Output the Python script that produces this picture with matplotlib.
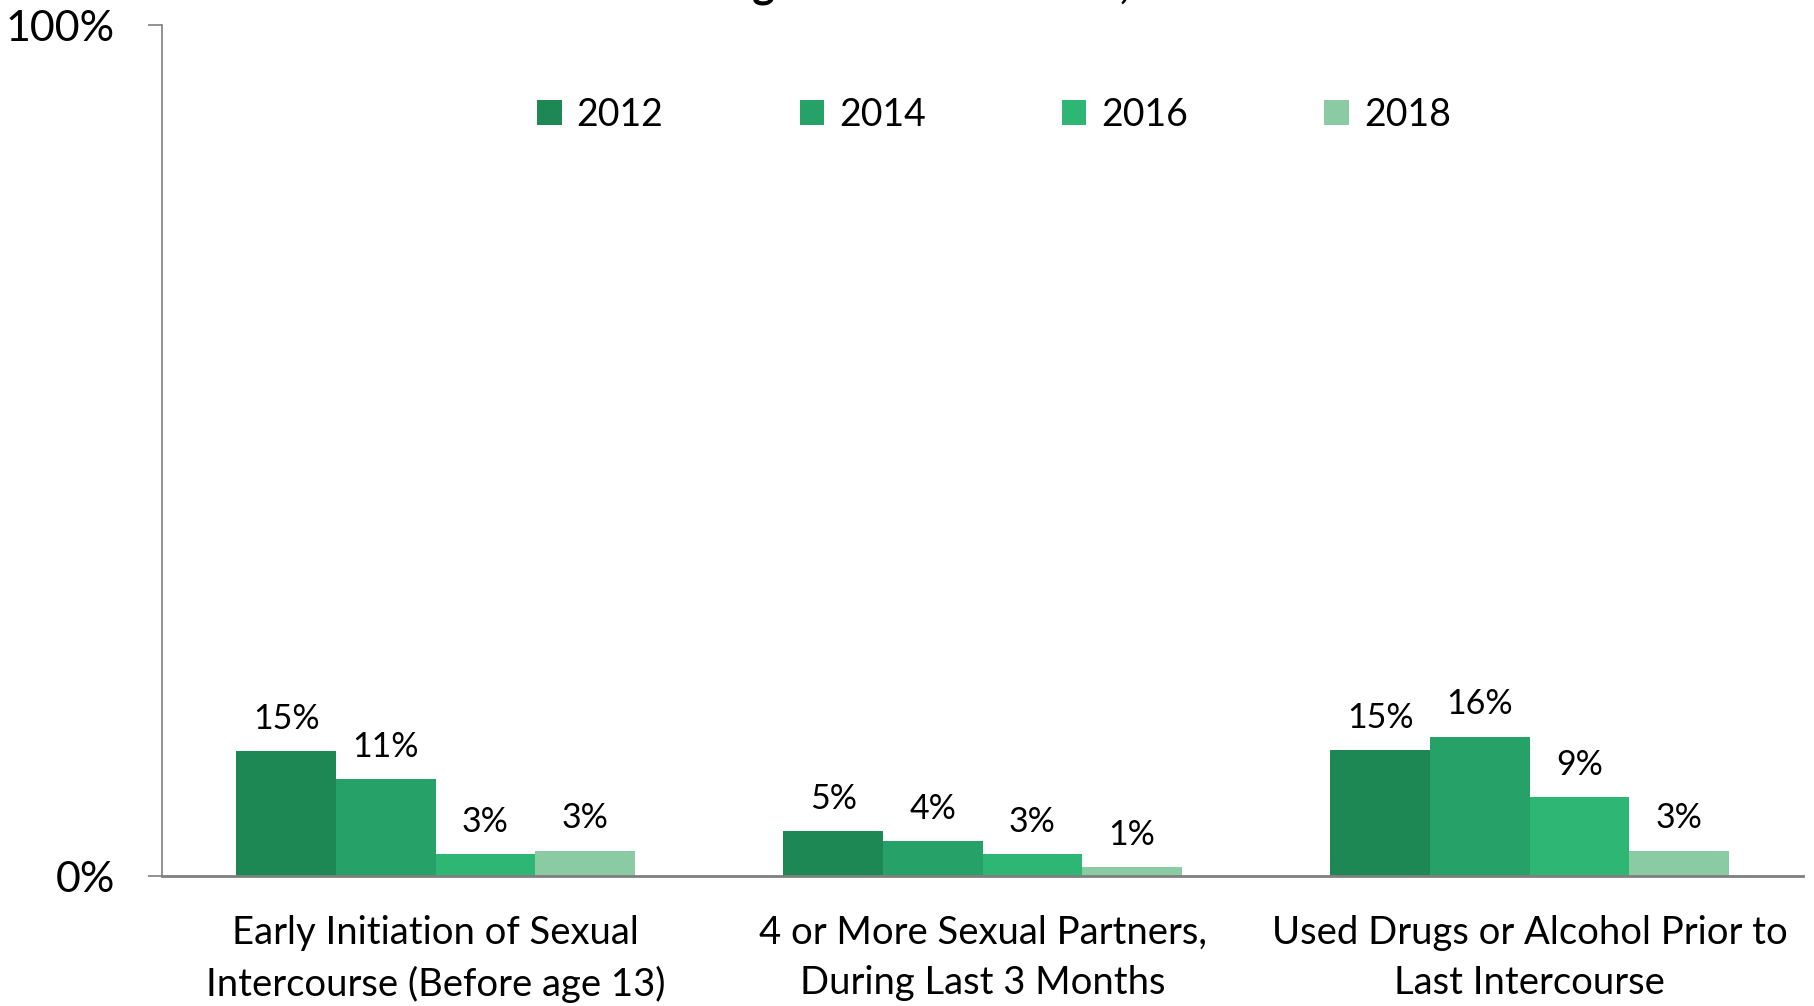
import matplotlib
matplotlib.use("Agg")
import matplotlib.pyplot as plt
import numpy as np

plt.rcParams['font.family'] = ['Lato', 'DejaVu Sans']

categories = ["Early Initiation of Sexual\nIntercourse (Before age 13)",
              "4 or More Sexual Partners,\nDuring Last 3 Months",
              "Used Drugs or Alcohol Prior to\nLast Intercourse"]
years = ["2012", "2014", "2016", "2018"]
vals_2012 = [14.7, 5.3, 14.8]
vals_2014 = [11.4, 4.1, 16.4]
vals_2016 = [2.6, 2.6, 9.3]
vals_2018 = [3.0, 1.1, 3.0]
series = [vals_2012, vals_2014, vals_2016, vals_2018]
colors = ["#1E8854", "#26A268", "#2DB674", "#8ACBA3"]
title = "Public High School Students, Total"

fig = plt.figure(figsize=(18.15, 10.06), dpi=100)
ax = fig.add_axes([0.0893, 0.1292, 0.9041, 0.8455])

x = np.arange(len(categories))
w = 0.182
for k, (vals, c, yr) in enumerate(zip(series, colors, years)):
    pos = x + (k - 1.5) * w
    bars = ax.bar(pos, vals, width=w, color=c, label=yr, edgecolor='none')
    for b, v in zip(bars, vals):
        ax.text(b.get_x() + b.get_width() / 2, v + 1.9, "%d%%" % round(v),
                ha='center', va='bottom', fontsize=24.5)

ax.set_xlim(-0.5, 2.5)
ax.set_ylim(0, 100)
ax.set_yticks([0, 100])
ax.set_yticklabels(["0%", "100%"], fontsize=31)
ax.set_xticks(x)
ax.set_xticklabels(categories, fontsize=27.5, linespacing=1.5)
ax.tick_params(axis='x', length=0, pad=28)
ax.tick_params(axis='y', length=10, width=1.2, color='#7f7f7f', direction='out', pad=24)
for s in ['top', 'right']:
    ax.spines[s].set_visible(False)
ax.spines['left'].set_color('#7f7f7f')
ax.spines['left'].set_linewidth(1.2)
ax.spines['bottom'].set_color('#7f7f7f')
ax.spines['bottom'].set_linewidth(2)

ax.legend(loc='center', bbox_to_anchor=(0.507, 0.895), ncol=4, frameon=False,
          fontsize=27, handlelength=0.65, handleheight=0.65, handletextpad=0.4,
          columnspacing=3.63)

fig.text(0.501, 1.002, title, ha='center', va='baseline', fontsize=31, fontweight='bold')

fig.savefig("out.png", dpi=100)
